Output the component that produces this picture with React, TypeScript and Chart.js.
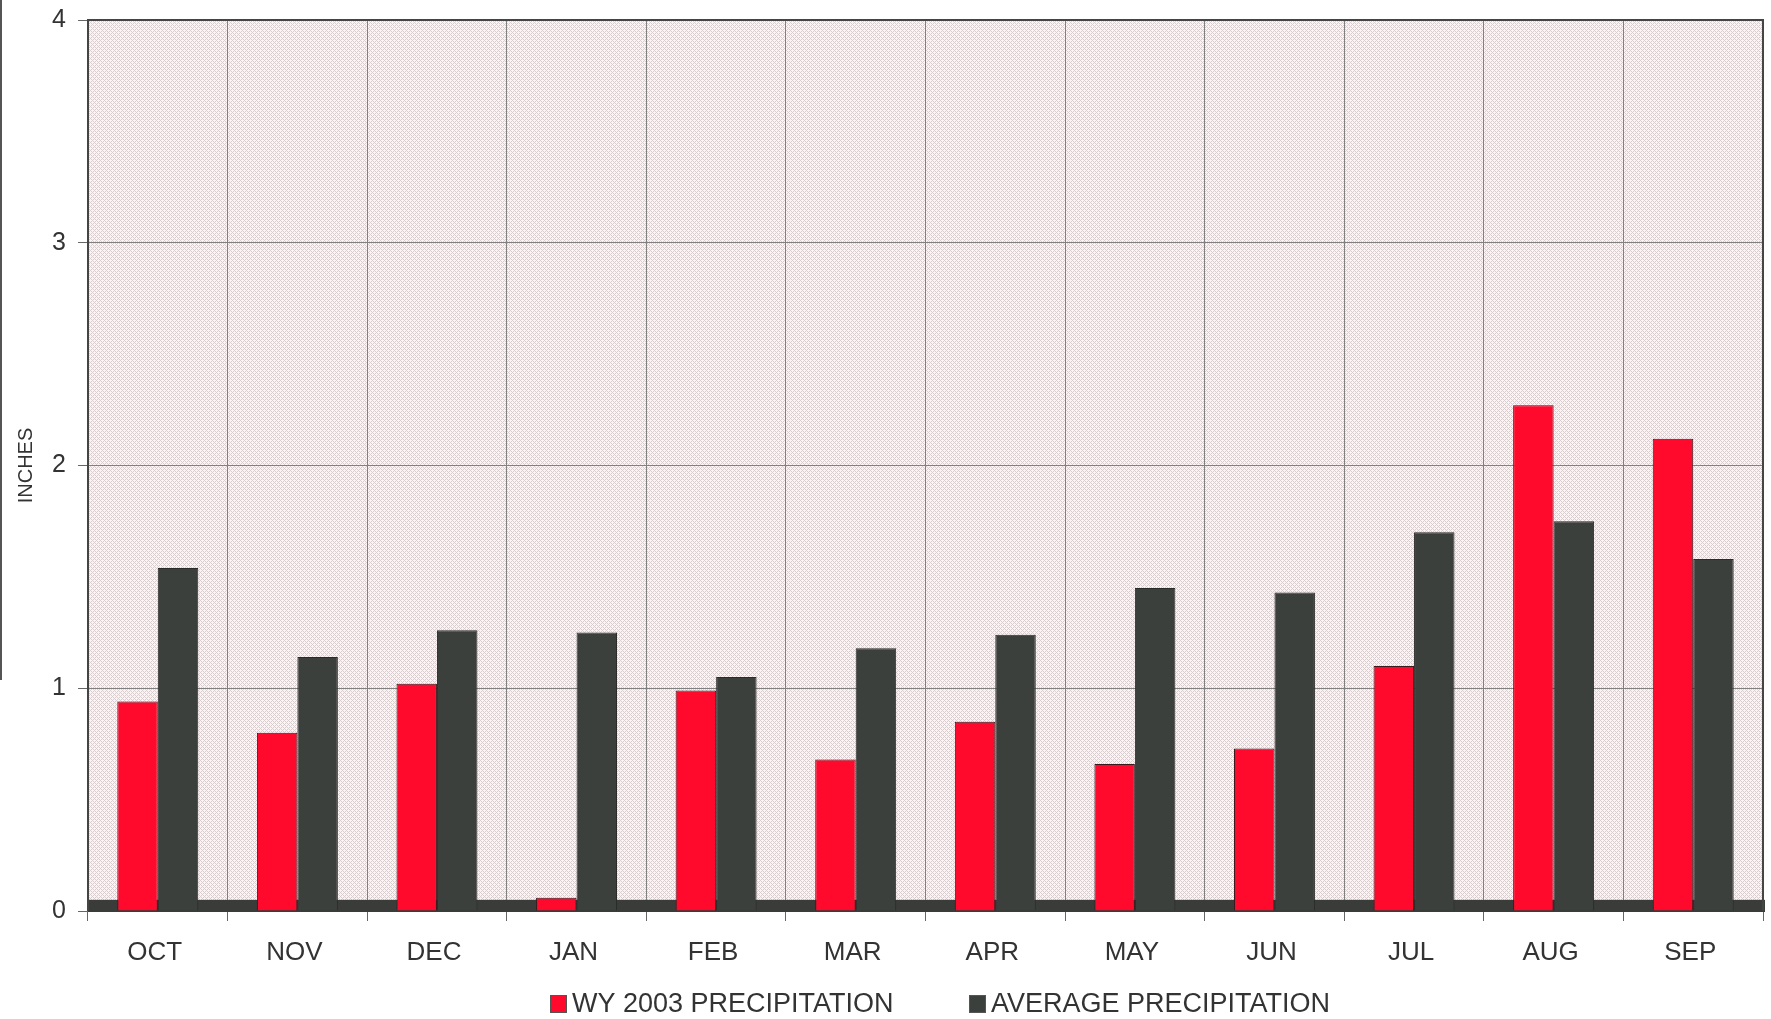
import React, { useEffect, useRef } from "react";
import { Chart, registerables } from "chart.js";

Chart.register(...registerables);

const categories = ["OCT", "NOV", "DEC", "JAN", "FEB", "MAR", "APR", "MAY", "JUN", "JUL", "AUG", "SEP"];
const wy2003Precip = [0.94, 0.80, 1.02, 0.06, 0.99, 0.68, 0.85, 0.66, 0.73, 1.10, 2.27, 2.12];
const averagePrecip = [1.54, 1.14, 1.26, 1.25, 1.05, 1.18, 1.24, 1.45, 1.43, 1.70, 1.75, 1.58];
const yTickValues = [0, 1, 2, 3, 4];
const seriesLabels = ["WY 2003 PRECIPITATION", "AVERAGE PRECIPITATION"];
const yTitle = "INCHES";

const RED = "#ff0a2c";
const GRAY = "#3c403d";
const FONT = "'Liberation Sans', Arial, sans-serif";

function makePattern(): CanvasPattern | string {
  const c = document.createElement("canvas");
  c.width = 4;
  c.height = 4;
  const g = c.getContext("2d");
  if (!g) return "#f3e9ea";
  g.fillStyle = "#fcf3f4";
  g.fillRect(0, 0, 4, 4);
  g.fillStyle = "#d8cdcf";
  for (let x = 0; x < 4; x++) {
    for (let y = 0; y < 4; y++) {
      if ((x + y) % 4 === 0 || (((x - y) % 4) + 4) % 4 === 0) g.fillRect(x, y, 1, 1);
    }
  }
  const p = g.createPattern(c, "repeat");
  return p || "#f3e9ea";
}

const plotDecor = {
  id: "plotDecor",
  beforeDraw(chart: any) {
    const { ctx, chartArea: a } = chart;
    ctx.save();
    ctx.fillStyle = makePattern();
    ctx.fillRect(a.left, a.top, a.right - a.left, a.bottom - a.top);
    ctx.restore();
  },
  beforeDatasetsDraw(chart: any) {
    const { ctx, chartArea: a, scales } = chart;
    const yTop = scales.y.getPixelForValue(0.05);
    const yBot = scales.y.getPixelForValue(0);
    ctx.save();
    ctx.fillStyle = "#393c39";
    ctx.fillRect(a.left, yTop, a.right - a.left + 2, yBot - yTop + 1);
    ctx.restore();
  },
  afterDatasetsDraw(chart: any) {
    const { ctx, chartArea: a } = chart;
    ctx.save();
    ctx.strokeStyle = "#454545";
    ctx.lineWidth = 2;
    ctx.beginPath();
    ctx.moveTo(a.left, a.bottom);
    ctx.lineTo(a.left, a.top);
    ctx.lineTo(a.right, a.top);
    ctx.lineTo(a.right, a.bottom);
    ctx.stroke();
    ctx.restore();
  },
  afterDraw(chart: any) {
    const { ctx } = chart;
    const items = [
      { x: 550, label: seriesLabels[0], color: RED },
      { x: 969, label: seriesLabels[1], color: GRAY },
    ];
    const cy = 1004;
    ctx.save();
    ctx.font = `27px ${FONT}`;
    ctx.textBaseline = "middle";
    ctx.textAlign = "left";
    for (const it of items) {
      ctx.fillStyle = it.color;
      ctx.fillRect(it.x, cy - 9, 17, 18);
      ctx.strokeStyle = "#555";
      ctx.lineWidth = 1;
      ctx.strokeRect(it.x + 0.5, cy - 8.5, 16, 17);
      ctx.fillStyle = "#333";
      ctx.fillText(it.label, it.x + 22, cy + 1);
    }
    ctx.restore();
  },
};

export default function App() {
  const ref = useRef<HTMLCanvasElement | null>(null);

  useEffect(() => {
    document.body.style.margin = "0";
    document.body.style.overflow = "hidden";
    if (!ref.current) return;
    const chart = new Chart(ref.current, {
      type: "bar",
      data: {
        labels: categories,
        datasets: [
          {
            label: seriesLabels[0],
            data: wy2003Precip,
            backgroundColor: RED,
            borderColor: "#3a1a1c",
            borderWidth: 1,
          },
          {
            label: seriesLabels[1],
            data: averagePrecip,
            backgroundColor: GRAY,
            borderColor: "#2a2c2a",
            borderWidth: 1,
          },
        ],
      },
      options: {
        animation: false,
        responsive: true,
        maintainAspectRatio: false,
        layout: { padding: { top: 20, right: 8, left: 0, bottom: 48 } },
        plugins: {
          legend: { display: false },
          tooltip: { enabled: false },
        },
        datasets: {
          bar: { categoryPercentage: 0.58, barPercentage: 1.0 },
        },
        scales: {
          x: {
            grid: {
              offset: true,
              color: "#808080",
              lineWidth: 1,
              drawTicks: true,
              tickLength: 10,
              tickColor: "#666",
            },
            border: { display: false },
            ticks: {
              color: "#333",
              font: { family: FONT, size: 26 },
              padding: 16,
              labelOffset: -3,
            },
            afterFit(scale: any) {
              scale.height = 60;
            },
          },
          y: {
            min: 0,
            max: 4,
            afterBuildTicks(scale: any) {
              scale.ticks = yTickValues.map((v) => ({ value: v }));
            },
            grid: {
              color: "#808080",
              lineWidth: 1,
              drawTicks: true,
              tickLength: 10,
              tickColor: "#666",
            },
            border: { display: false },
            ticks: {
              color: "#333",
              font: { family: FONT, size: 25 },
              padding: 12,
            },
            title: {
              display: true,
              text: yTitle,
              color: "#333",
              font: { family: FONT, size: 20 },
              padding: { top: 14, bottom: 0 },
            },
            afterFit(scale: any) {
              scale.width = 88;
              scale.paddingTop = 0;
              scale.paddingBottom = 0;
            },
          },
        },
      },
      plugins: [plotDecor],
    });
    return () => chart.destroy();
  }, []);

  return (
    <div style={{ position: "absolute", left: 0, top: 0, width: 1771, height: 1019, background: "#fff" }}>
      <div style={{ position: "absolute", left: 0, top: 0, width: 2, height: 680, background: "#555" }} />
      <canvas ref={ref} />
    </div>
  );
}
